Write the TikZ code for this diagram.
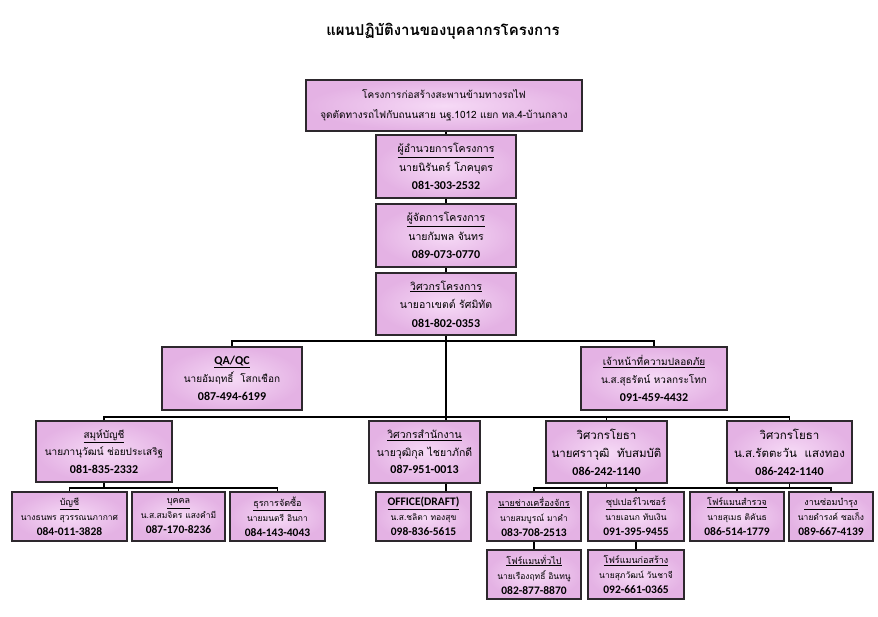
\documentclass[tikz,border=0pt]{standalone}
\usepackage{fontspec}
\setmainfont{Loma}[Script=Thai]
\newfontfamily\numf{Carlito}
\definecolor{boxin}{RGB}{246,218,246}
\definecolor{boxout}{RGB}{228,178,228}
\definecolor{boxline}{RGB}{45,40,45}
\newcommand\onum[1]{{\numf\bfseries #1}}
\newcommand\obox[7][ob]{\node[#1, minimum width={(#5-#3)*1pt}, minimum height={(#6-#4)*1pt}] (#2) at ({(#3+#5)/2},{(#4+#6)/2}) {#7};}
\tikzset{
  ob/.style={draw=boxline, line width=1.1pt, shading=radial, inner color=boxin, outer color=boxout,
     inner sep=0pt, align=center, font=\fontsize{10.5}{18.5}\selectfont},
  obs/.style={ob, font=\fontsize{8.5}{15}\selectfont},
  obc/.style={ob, font=\fontsize{11.5}{18}\selectfont},
  conn/.style={draw=black, line width=1.1pt}
}
\begin{document}
\begin{tikzpicture}[x=1pt,y=-1pt]
\useasboundingbox (0,0) rectangle (878,616);
\node[font=\fontsize{15}{18}\selectfont\bfseries] (title) at (443,31) {แผนปฏิบัติงานของบุคลากรโครงการ};
% level 1
\obox[ob,font=\fontsize{10}{20}\selectfont]{top}{306}{80}{582}{131}{โครงการก่อสร้างสะพานข้ามทางรถไฟ\\จุดตัดทางรถไฟกับถนนสาย นฐ.1012 แยก ทล.4-บ้านกลาง}
\obox{b2}{376}{135}{516}{198}{\underline{ผู้อำนวยการโครงการ}\\นายนิรันดร์ โภคบุตร\\\onum{\fontsize{12}{18.5}\selectfont 081-303-2532}}
\obox{b3}{376}{204}{516}{267}{\underline{ผู้จัดการโครงการ}\\นายกัมพล จันทร\\\onum{\fontsize{12}{18.5}\selectfont 089-073-0770}}
\obox{b4}{376}{273}{516}{335}{\underline{วิศวกรโครงการ}\\นายอาเขตต์ รัศมิทัต\\\onum{\fontsize{12}{18.5}\selectfont 081-802-0353}}
% level 2
\obox[ob,font=\fontsize{10}{18}\selectfont]{qa}{162}{347}{302}{410}{\underline{\onum{\fontsize{12}{18}\selectfont QA/QC}}\\นายอัมฤทธิ์~~โสกเชือก\\\onum{\fontsize{12}{18}\selectfont 087-494-6199}}
\obox[ob,font=\fontsize{10}{18}\selectfont]{safe}{581}{347}{727}{410}{\underline{เจ้าหน้าที่ความปลอดภัย}\\น.ส.สุธรัตน์ หวลกระโทก\\\onum{\fontsize{12}{18}\selectfont 091-459-4432}}
% level 3
\obox[ob,font=\fontsize{10}{17.5}\selectfont]{acc}{36}{421}{172}{482}{\underline{สมุห์บัญชี}\\นายภานุวัฒน์ ช่อยประเสริฐ\\\onum{\fontsize{12}{17.5}\selectfont 081-835-2332}}
\obox[ob,font=\fontsize{10.5}{17.5}\selectfont]{offe}{369}{421}{480}{483}{\underline{วิศวกรสำนักงาน}\\นายวุฒิกุล ไชยาภักดี\\\onum{\fontsize{12}{17.5}\selectfont 087-951-0013}}
\obox[obc]{civa}{546}{421}{667}{483}{วิศวกรโยธา\\นายศราวุฒิ~~ทับสมบัติ\\\onum{\fontsize{12}{18}\selectfont 086-242-1140}}
\obox[obc]{civb}{727}{421}{852}{483}{วิศวกรโยธา\\น.ส.รัตตะวัน~~แสงทอง\\\onum{\fontsize{12}{18}\selectfont 086-242-1140}}
% level 4
\obox[obs]{acc1}{12}{492}{127}{541}{\underline{\fontsize{9}{15}\selectfont บัญชี}\\นางธนพร สุวรรณนภากาศ\\\onum{\fontsize{11.5}{15}\selectfont 084-011-3828}}
\obox[obs]{per}{132}{492}{225}{541}{\underline{\fontsize{9}{15}\selectfont บุคคล}\\น.ส.สมจิตร แสงคำมี\\\onum{\fontsize{11.5}{15}\selectfont 087-170-8236}}
\obox[obs]{pur}{230}{492}{325}{541}{\underline{\fontsize{9}{15}\selectfont ธุรการจัดซื้อ}\\นายมนตรี อินกา\\\onum{\fontsize{11.5}{15}\selectfont 084-143-4043}}
\obox[obs]{off}{376}{492}{471}{541}{\underline{\onum{\fontsize{11.5}{15}\selectfont OFFICE(DRAFT)}}\\น.ส.ชลิตา ทองสุข\\\onum{\fontsize{11.5}{15}\selectfont 098-836-5615}}
\obox[obs]{mech}{487}{492}{581}{541}{\underline{\fontsize{9}{15}\selectfont นายช่างเครื่องจักร}\\นายสมบูรณ์ มาคำ\\\onum{\fontsize{11.5}{15}\selectfont 083-708-2513}}
\obox[obs]{sup}{588}{492}{684}{541}{\underline{\fontsize{9}{15}\selectfont ซุปเปอร์ไวเซอร์}\\นายเอนก ทับเงิน\\\onum{\fontsize{11.5}{15}\selectfont 091-395-9455}}
\obox[obs]{sur}{690}{492}{784}{541}{\underline{\fontsize{9}{15}\selectfont โฟร์แมนสำรวจ}\\นายสุเมธ ติคันธ\\\onum{\fontsize{11.5}{15}\selectfont 086-514-1779}}
\obox[obs]{mnt}{789}{492}{873}{541}{\underline{\fontsize{9}{15}\selectfont งานซ่อมบำรุง}\\นายดำรงค์ ซอเก็ง\\\onum{\fontsize{11.5}{15}\selectfont 089-667-4139}}
% level 5
\obox[obs]{fgen}{487}{550}{581}{599}{\underline{\fontsize{9}{15}\selectfont โฟร์แมนทั่วไป}\\นายเรืองฤทธิ์ อินทนู\\\onum{\fontsize{11.5}{15}\selectfont 082-877-8870}}
\obox[obs]{fcon}{588}{550}{684}{599}{\underline{\fontsize{9}{15}\selectfont โฟร์แมนก่อสร้าง}\\นายสุภวัฒน์ วันชาจี\\\onum{\fontsize{11.5}{15}\selectfont 092-661-0365}}
% connectors
\coordinate (h2) at (446,341);
\coordinate (h3) at (446,417);
\coordinate (h4) at (446,488);
\draw[conn] (b2.north) -- (b2.north |- top.south);
\draw[conn] (b2.south) -- (b3.north);
\draw[conn] (b3.south) -- (b4.north);
\draw[conn] (b4.south) -- (b4.south |- offe.north);
\draw[conn] (qa.north) |- (h2) -| (safe.north);
\draw[conn] (acc.north) |- (h3) -| (civb.north);
\draw[conn] (civa.north) -- (civa.north |- h3);
\draw[conn] (acc.south) -- (acc.south |- h4);
\draw[conn] (acc1.north) |- (pur.north |- h4) -- (pur.north);
\draw[conn] (per.north) -- (per.north |- h4);
\draw[conn] (b4.south |- offe.south) -- (b4.south |- off.north);
\draw[conn] (civa.south) -- (civa.south |- h4);
\draw[conn] (civb.south) -- (civb.south |- h4);
\draw[conn] (mech.north) |- (mnt.north |- h4) -- (mnt.north);
\draw[conn] (sup.north) -- (sup.north |- h4);
\draw[conn] (sur.north) -- (sur.north |- h4);
\draw[conn] (mech.south) -- (fgen.north);
\draw[conn] (sup.south) -- (fcon.north);
\end{tikzpicture}
\end{document}
